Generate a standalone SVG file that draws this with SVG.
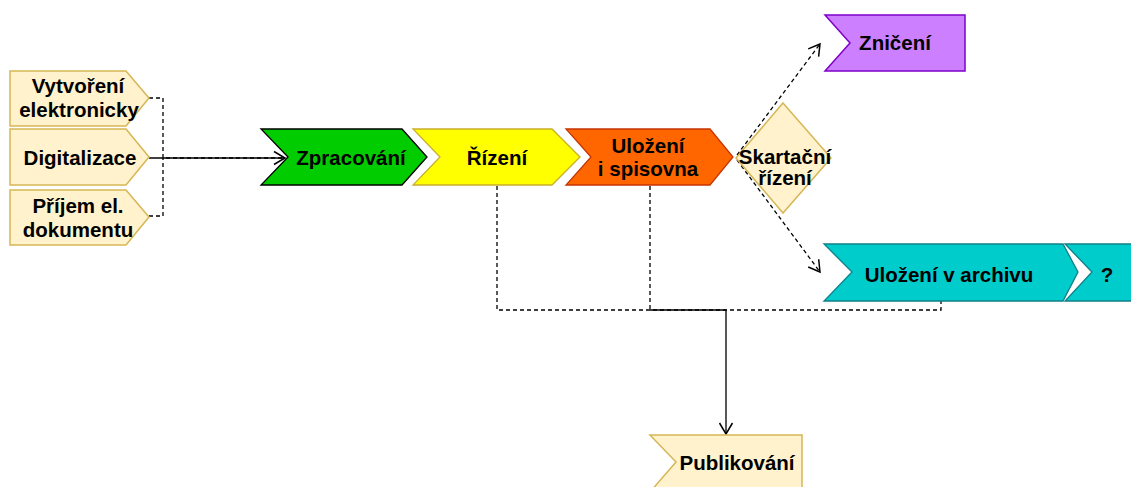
<svg xmlns="http://www.w3.org/2000/svg" width="1131" height="487" viewBox="0 0 1131 487">
<style>
.t{font-family:"Liberation Sans",Arial,sans-serif;font-weight:bold;font-size:20.5px;fill:#000;text-anchor:middle}
.y{fill:#FFF2CC;stroke:#D6B656;stroke-width:1.5}
.d{fill:none;stroke:#000;stroke-width:1.3;stroke-dasharray:4 3}
.s{fill:none;stroke:#000;stroke-width:1.3}
</style>
<defs>
<marker id="a" markerUnits="userSpaceOnUse" markerWidth="16" markerHeight="16" refX="11" refY="7" orient="auto" overflow="visible">
<path d="M0,0.5 L11,7 L0,13.5" fill="none" stroke="#000" stroke-width="1.5"/>
</marker>
</defs>
<rect width="1131" height="487" fill="#fff"/>
<g id="connectors">
<path class="d" d="M149,98 H163 V158 H285"/>
<path class="d" d="M149,216 H163 V158"/>
<path class="s" d="M149,158 H285" marker-end="url(#a)"/>
<path class="d" d="M737,155 L820,44" marker-end="url(#a)"/>
<path class="d" d="M737,160 L820,272" marker-end="url(#a)"/>
<path class="d" d="M497,186 V310 H941 V301"/>
<path class="d" d="M650,186 V310"/>
<path class="s" d="M650,310 H726 V434" marker-end="url(#a)"/>
</g>
<g id="vytvoreni"><polygon class="y" points="10,71 126,71 149,98 126,126 10,126"/><text class="t" x="78" y="93">Vytvoření</text><text class="t" x="79" y="117">elektronicky</text></g>
<g id="digitalizace"><polygon class="y" points="10,129 126,129 149,157 126,185 10,185"/><text class="t" x="80" y="165">Digitalizace</text></g>
<g id="prijem"><polygon class="y" points="10,190 126,190 149,217 126,245 10,245"/><text class="t" x="78" y="213">Příjem el.</text><text class="t" x="78" y="237">dokumentu</text></g>
<g id="zpracovani"><polygon points="261,129 402,129 427,157 402,185 261,185 288,157" fill="#00CC00" stroke="#000" stroke-width="1.3"/><text class="t" x="351" y="165">Zpracování</text></g>
<g id="rizeni"><polygon points="413,129 552,129 580,157 552,185 413,185 440,157" fill="#FFFF00" stroke="#C9AE2A" stroke-width="1.3"/><text class="t" x="497" y="165">Řízení</text></g>
<g id="ulozeni"><polygon points="566,129 710,129 733,157 710,185 566,185 591,157" fill="#FF6600" stroke="#C73500" stroke-width="1.3"/><text class="t" x="648" y="153">Uložení</text><text class="t" x="648" y="176">i spisovna</text></g>
<g id="skartacni"><polygon class="y" points="783,103 831,158 783,213 736,158"/><text class="t" x="785" y="164">Skartační</text><text class="t" x="785" y="185">řízení</text></g>
<g id="zniceni"><polygon points="825,15 965,15 965,71 825,71 850,43" fill="#CC80FF" stroke="#7F00CC" stroke-width="1.5"/><text class="t" x="895" y="50">Zničení</text></g>
<g id="archiv"><polygon points="824,244 1063,244 1078,272 1063,301 824,301 852,272" fill="#00CCCC" stroke="#0E8088" stroke-width="1.3"/><text class="t" x="949" y="282">Uložení v archivu</text></g>
<g id="otaznik"><polygon points="1065,244 1140,244 1140,301 1065,301 1092,272" fill="#00CCCC" stroke="#0E8088" stroke-width="1.3"/><text class="t" x="1107" y="282">?</text></g>
<g id="publikovani"><polygon class="y" points="650,435 802,435 802,492 650,492 676,462"/><text class="t" x="737" y="470">Publikování</text></g>
</svg>
